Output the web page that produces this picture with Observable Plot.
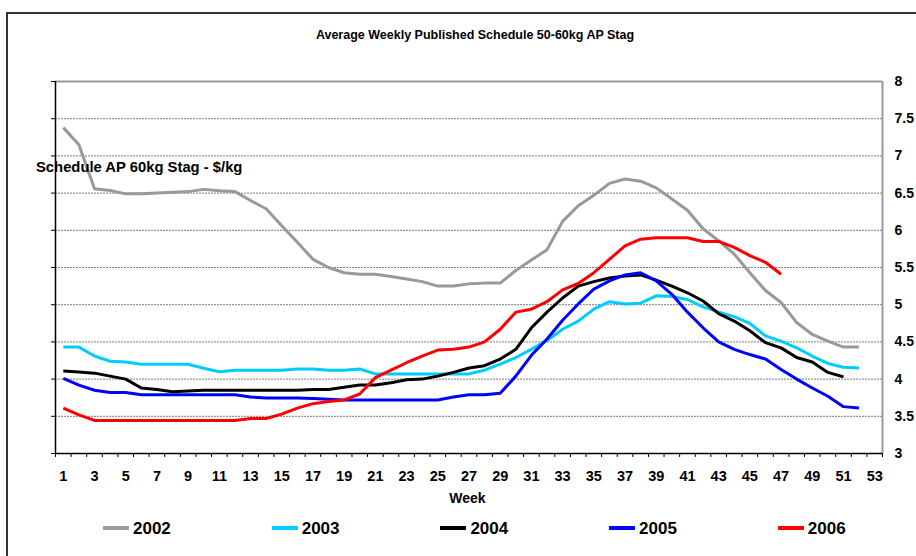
<!DOCTYPE html>
<html>
<head>
<meta charset="utf-8">
<script src="https://cdn.jsdelivr.net/npm/d3@7"></script>
<script src="https://cdn.jsdelivr.net/npm/@observablehq/plot@0.6"></script>
<style>
  html, body { margin: 0; padding: 0; background: #fff; overflow: hidden; }
  #wrap { position: relative; width: 916px; height: 556px; overflow: hidden;
          font-family: "Liberation Sans", Arial, sans-serif; font-weight: bold; color: #000; }
  #frame { position: absolute; left: 6px; top: 12px; width: 1000px; height: 1000px;
           border: 2px solid #333; box-sizing: border-box; }
  #chart { position: absolute; left: 0; top: 0; }
  .abs { position: absolute; white-space: nowrap; }
  .leg { position: absolute; top: 519px; height: 20px; display: flex; align-items: center; }
  .leg span.sw { display: inline-block; width: 26px; height: 4px; margin-right: 4px; position: relative; top: -1.5px; }
  .leg span.lb { font-size: 17px; line-height: 20px; }
</style>
</head>
<body>
<div id="wrap">
  <div id="frame"></div>
  <div id="chart"></div>
</div>
<script>
// ---- data ----
const years = ["2002", "2003", "2004", "2005", "2006"];
const colors = ["#999999", "#00CCFF", "#000000", "#0000FF", "#FF0000"];

const y2002 = [7.38, 7.15, 6.56, 6.535, 6.49, 6.49, 6.50, 6.51, 6.52, 6.55,
               6.53, 6.52, 6.40, 6.29, 6.06, 5.84, 5.61, 5.50, 5.43, 5.41,
               5.41, 5.38, 5.345, 5.31, 5.25, 5.25, 5.28, 5.29, 5.29, 5.46,
               5.60, 5.74, 6.12, 6.33, 6.47, 6.63, 6.69, 6.66, 6.57, 6.42,
               6.27, 6.02, 5.86, 5.68, 5.43, 5.19, 5.03, 4.76, 4.60, 4.51,
               4.43, 4.43];
const y2003 = [4.43, 4.43, 4.31, 4.24, 4.23, 4.20, 4.20, 4.20, 4.20, 4.145,
               4.10, 4.12, 4.12, 4.12, 4.12, 4.135, 4.135, 4.12, 4.12, 4.135,
               4.07, 4.07, 4.07, 4.07, 4.07, 4.07, 4.07, 4.12, 4.20, 4.29,
               4.40, 4.52, 4.67, 4.78, 4.94, 5.04, 5.01, 5.02, 5.12, 5.11,
               5.07, 4.97, 4.90, 4.84, 4.75, 4.58, 4.51, 4.42, 4.31, 4.21,
               4.16, 4.15];
const y2004 = [4.11, 4.095, 4.08, 4.04, 4.00, 3.88, 3.86, 3.83, 3.84, 3.85,
               3.85, 3.85, 3.85, 3.85, 3.85, 3.85, 3.86, 3.86, 3.89, 3.92,
               3.92, 3.95, 3.99, 4.00, 4.04, 4.09, 4.15, 4.18, 4.27, 4.40,
               4.69, 4.90, 5.09, 5.25, 5.31, 5.36, 5.385, 5.40, 5.33, 5.25,
               5.16, 5.05, 4.88, 4.78, 4.65, 4.49, 4.42, 4.29, 4.23, 4.09,
               4.03];
const y2005 = [4.01, 3.92, 3.85, 3.82, 3.82, 3.79, 3.79, 3.79, 3.79, 3.79,
               3.79, 3.79, 3.76, 3.745, 3.745, 3.745, 3.74, 3.73, 3.72, 3.72,
               3.72, 3.72, 3.72, 3.72, 3.72, 3.76, 3.79, 3.79, 3.81, 4.04,
               4.32, 4.54, 4.79, 5.01, 5.21, 5.32, 5.40, 5.43, 5.32, 5.14,
               4.90, 4.69, 4.50, 4.40, 4.33, 4.27, 4.13, 4.00, 3.88, 3.77,
               3.63, 3.61];
const y2006 = [3.61, 3.52, 3.445, 3.445, 3.445, 3.445, 3.445, 3.445, 3.445, 3.445,
               3.445, 3.445, 3.47, 3.47, 3.53, 3.61, 3.67, 3.70, 3.72, 3.80,
               4.02, 4.12, 4.22, 4.31, 4.39, 4.40, 4.43, 4.50, 4.67, 4.90,
               4.94, 5.04, 5.20, 5.285, 5.43, 5.61, 5.79, 5.88, 5.90, 5.90,
               5.90, 5.85, 5.85, 5.77, 5.66, 5.57, 5.41];

const xTickLabels = [1, 3, 5, 7, 9, 11, 13, 15, 17, 19, 21, 23, 25, 27, 29, 31, 33, 35,
                     37, 39, 41, 43, 45, 47, 49, 51, 53];
const yTicks = [3, 3.5, 4, 4.5, 5, 5.5, 6, 6.5, 7, 7.5, 8];
const yGrid = [3.5, 4, 4.5, 5, 5.5, 6, 6.5, 7, 7.5];
const weekCount = 53;

const titleText = "Average Weekly Published Schedule 50-60kg AP Stag";
const yLabelText = "Schedule AP 60kg Stag - $/kg";
const xLabelText = "Week";

// ---- build table ----
const seriesValues = [y2002, y2003, y2004, y2005, y2006];
const rows = [];
seriesValues.forEach((vals, k) => vals.forEach((v, i) => rows.push({ year: years[k], week: i + 1, value: v })));
const boundaries = d3.range(0, weekCount + 1).map(i => i + 0.5);

const chart = Plot.plot({
  width: 916,
  height: 556,
  marginLeft: 55,
  marginRight: 34,
  marginTop: 81,
  marginBottom: 103,
  style: { fontFamily: "'Liberation Sans', Arial, sans-serif", fontWeight: "bold", background: "transparent", color: "#000" },
  x: { domain: [0.5, weekCount + 0.5] },
  y: { domain: [3, 8] },
  color: { domain: years, range: colors },
  marks: [
    Plot.ruleY(yGrid, { stroke: "#7a7a7a", strokeWidth: 1, strokeDasharray: "2,1", strokeOpacity: 1 }),
    Plot.ruleY([8], { stroke: "#9a9a9a", strokeWidth: 2, strokeOpacity: 1 }),
    Plot.ruleX([weekCount + 0.5], { stroke: "#9a9a9a", strokeWidth: 2, strokeOpacity: 1 }),
    Plot.axisX({ ticks: boundaries, tickFormat: () => "", tickSize: 4, stroke: "#000", strokeOpacity: 1, label: null }),
    Plot.axisX({ ticks: xTickLabels, tickFormat: d => String(d), tickSize: 0, tickPadding: 17, fontSize: 14.5, fontWeight: "bold", label: null }),
    Plot.axisY({ anchor: "left", ticks: yTicks, tickFormat: () => "", tickSize: 4, stroke: "#000", strokeOpacity: 1, label: null }),
    Plot.axisY({ anchor: "right", ticks: yTicks, tickFormat: d => String(d), tickSize: 0, tickPadding: 12, fontSize: 14, fontWeight: "bold", label: null }),
    Plot.ruleY([3], { stroke: "#000", strokeWidth: 1.5 }),
    Plot.ruleX([0.5], { stroke: "#000", strokeWidth: 1.5 }),
    Plot.line(rows, { x: "week", y: "value", z: "year", stroke: "year", strokeWidth: 3, strokeLinejoin: "round", strokeLinecap: "butt" })
  ]
});
document.getElementById("chart").appendChild(chart);

const wrap = document.getElementById("wrap");
function addText(txt, css) {
  const d = document.createElement("div");
  d.className = "abs";
  d.textContent = txt;
  Object.assign(d.style, css);
  wrap.appendChild(d);
  return d;
}
addText(titleText, { left: "475px", top: "27px", transform: "translateX(-50%)", fontSize: "12.5px", lineHeight: "16px" });
addText(yLabelText, { left: "36px", top: "158px", fontSize: "14.8px", lineHeight: "18px" });
addText(xLabelText, { left: "467.5px", top: "490px", transform: "translateX(-50%)", fontSize: "14px", lineHeight: "17px" });

// legend
years.forEach((y, i) => {
  const item = document.createElement("div");
  item.className = "leg";
  item.style.left = (103 + i * 168.7) + "px";
  const sw = document.createElement("span");
  sw.className = "sw";
  sw.style.background = colors[i];
  const lb = document.createElement("span");
  lb.className = "lb";
  lb.textContent = y;
  item.appendChild(sw);
  item.appendChild(lb);
  wrap.appendChild(item);
});
</script>
</body>
</html>
